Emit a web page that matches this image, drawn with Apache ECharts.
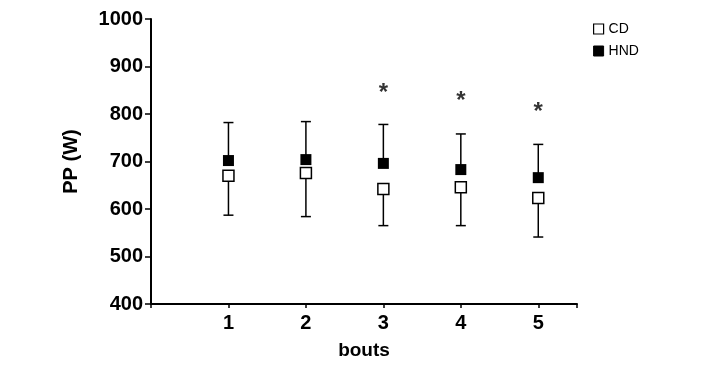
<!DOCTYPE html>
<html>
<head>
<meta charset="utf-8">
<script src="https://cdn.jsdelivr.net/npm/echarts@6/dist/echarts.min.js"></script>
<style>html,body{margin:0;padding:0;background:#fff}#c{width:714px;height:370px}</style>
</head>
<body>
<div id="c"></div>
<script>
var bouts = [1, 2, 3, 4, 5];
var cdMean = [670, 676, 642, 646, 623];
var hndMean = [702, 704, 696, 683, 666];
var hndUpper = [782, 784, 778, 758, 736];
var cdLower = [587, 584, 565, 565, 541];
var starBouts = [3, 4, 5];
var starLevel = [844, 827, 804];
var yTicks = [400, 500, 600, 700, 800, 900, 1000];

var FONT = 'Liberation Sans, Arial, sans-serif';
function pairs(xs, ys) { return xs.map(function (x, i) { return [x, ys[i]]; }); }

function errRender(params, api) {
  var x = api.value(0), a = api.value(1), b = api.value(2);
  var p0 = api.coord([x, a]), p1 = api.coord([x, b]);
  var cw = 5;
  var st = { stroke: '#000', lineWidth: 1.5 };
  return {
    type: 'group',
    children: [
      { type: 'line', shape: { x1: p0[0], y1: p0[1], x2: p1[0], y2: p1[1] }, style: st },
      { type: 'line', shape: { x1: p1[0] - cw, y1: p1[1], x2: p1[0] + cw, y2: p1[1] }, style: st }
    ]
  };
}

var chart = echarts.init(document.getElementById('c'));
chart.setOption({
  animation: false,
  backgroundColor: '#fff',
  grid: { left: 151, right: 137, top: 19, bottom: 66, containLabel: false },
  legend: {
    orient: 'vertical',
    left: 593,
    top: 22,
    padding: 0,
    itemWidth: 10,
    itemHeight: 10,
    itemGap: 8,
    textStyle: { fontFamily: FONT, fontSize: 14, color: '#000' },
    data: [
      { name: 'CD', icon: 'rect', itemStyle: { color: '#fff', borderColor: '#000', borderWidth: 1.2 } },
      { name: 'HND', icon: 'rect', itemStyle: { color: '#000', borderColor: '#000', borderWidth: 1 } }
    ]
  },
  xAxis: {
    type: 'value',
    min: 0, max: 5.5, interval: 1,
    splitLine: { show: false },
    axisLine: { lineStyle: { color: '#000', width: 2 } },
    axisTick: { show: true, length: 4, lineStyle: { color: '#000', width: 1.5 } },
    axisLabel: {
      margin: 9,
      color: '#000', fontFamily: FONT, fontWeight: 'bold', fontSize: 20,
      formatter: function (v) { return bouts.indexOf(v) >= 0 ? String(v) : ''; }
    },
    name: 'bouts', nameLocation: 'middle', nameGap: 37,
    nameTextStyle: { color: '#000', fontFamily: FONT, fontWeight: 'bold', fontSize: 19 }
  },
  yAxis: {
    type: 'value',
    min: yTicks[0], max: yTicks[yTicks.length - 1], interval: 100,
    splitLine: { show: false },
    axisLine: { show: true, lineStyle: { color: '#000', width: 2 } },
    axisTick: { show: true, length: 6, lineStyle: { color: '#000', width: 1.5 } },
    axisLabel: {
      margin: 8, color: '#000', fontFamily: FONT, fontWeight: 'bold', fontSize: 20,
      formatter: function (v) { return String(v); }
    },
    name: 'PP (W)', nameLocation: 'middle', nameGap: 70, nameRotate: 90,
    nameTextStyle: { color: '#000', fontFamily: FONT, fontWeight: 'bold', fontSize: 20 }
  },
  series: [
    {
      type: 'custom', name: 'errUp', renderItem: errRender, z: 1,
      data: bouts.map(function (b, i) { return [b, hndMean[i], hndUpper[i]]; })
    },
    {
      type: 'custom', name: 'errDown', renderItem: errRender, z: 1,
      data: bouts.map(function (b, i) { return [b, cdMean[i], cdLower[i]]; })
    },
    {
      type: 'scatter', name: 'CD', symbol: 'rect', symbolSize: 11, z: 3,
      itemStyle: { color: '#fff', borderColor: '#000', borderWidth: 1.5, opacity: 1 },
      data: pairs(bouts, cdMean)
    },
    {
      type: 'scatter', name: 'HND', symbol: 'rect', symbolSize: 11, z: 3,
      itemStyle: { color: '#000', opacity: 1 },
      data: pairs(bouts, hndMean)
    },
    {
      type: 'scatter', name: 'sig', symbolSize: 0, z: 4, silent: true,
      label: { show: true, position: 'inside', formatter: '*', color: '#000', fontFamily: FONT, fontWeight: 'bold', fontSize: 24 },
      data: pairs(starBouts, starLevel)
    }
  ]
});
</script>
</body>
</html>
